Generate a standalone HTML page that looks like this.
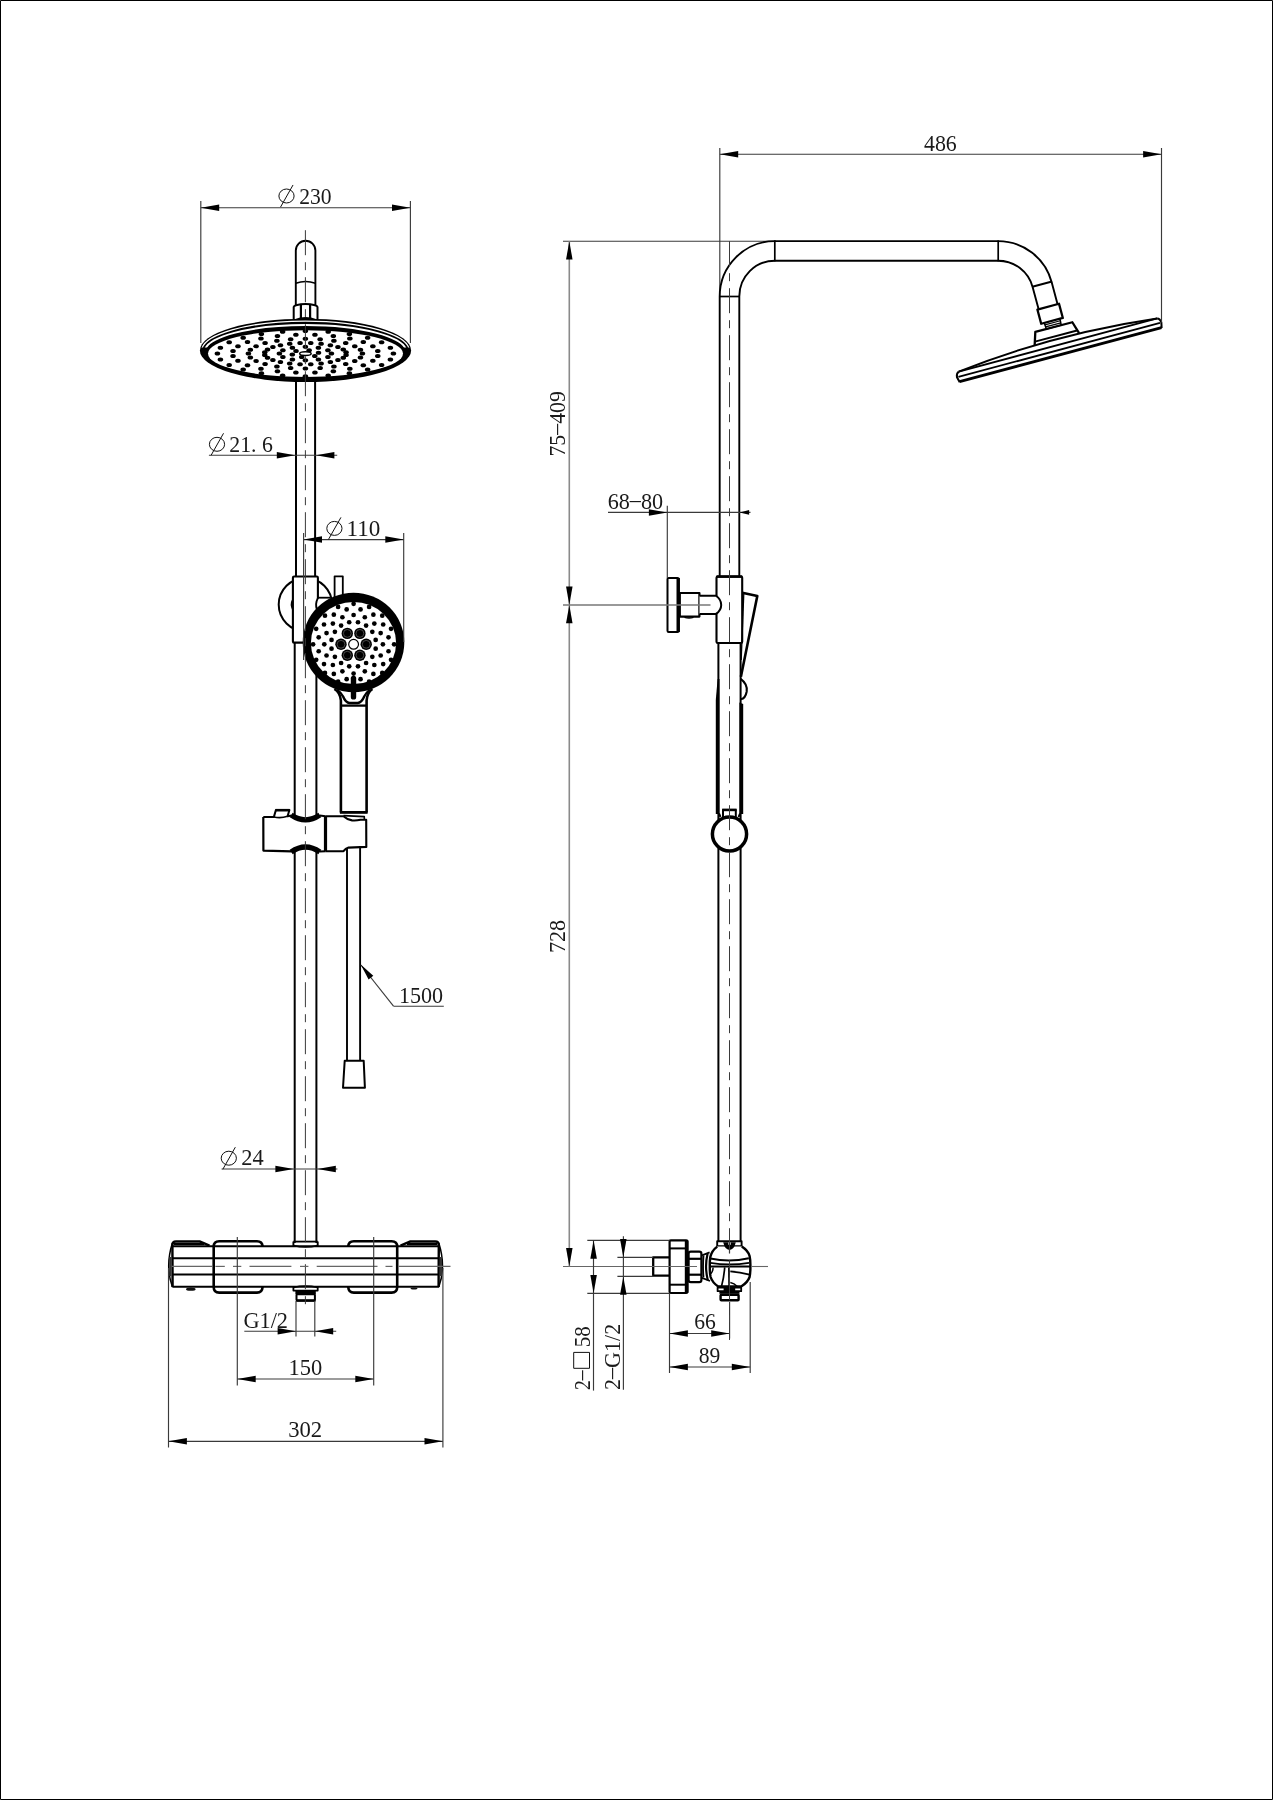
<!DOCTYPE html>
<html><head><meta charset="utf-8"><title>Shower column drawing</title>
<style>
html,body{margin:0;padding:0;background:#fff;}
body{width:1273px;height:1800px;overflow:hidden;}
svg{display:block;filter:grayscale(1);}
svg text{font-family:"Liberation Serif",serif;fill:#1a1a1a;}
</style></head><body>
<svg width="1273" height="1800" viewBox="0 0 1273 1800" fill="none" stroke-linecap="butt" stroke-linejoin="round">
<rect x="0" y="0" width="1273" height="1800" fill="#fff"/>
<rect x="0.5" y="0.5" width="1272" height="1799" fill="none" stroke="#000" stroke-width="1"/>
<path d="M295.8,305 L295.8,250.6 A9.8,9.8 0 0 1 315.4,250.6 L315.4,305" stroke="#000" stroke-width="1.9" fill="none" />
<path d="M295.8,283.2 Q305.5,279.8 315.4,283.2" stroke="#000" stroke-width="1.7" fill="none" />
<path d="M293.7,319.5 L293.7,307 Q294,305.6 296,305.2 Q305.5,302.6 315,305.2 Q317.2,305.6 317.5,307 L317.5,319.5" stroke="#000" stroke-width="2.0" fill="none" />
<line x1="300.90" y1="304.20" x2="300.90" y2="319.50" stroke="#000" stroke-width="2.2" />
<line x1="310.10" y1="304.20" x2="310.10" y2="319.50" stroke="#000" stroke-width="2.2" />
<path d="M294.6,319.2 Q305.5,314.8 316.6,319.2 Z" fill="#000"/>
<line x1="296.00" y1="380.00" x2="296.00" y2="576.00" stroke="#000" stroke-width="2.0" />
<line x1="315.10" y1="380.00" x2="315.10" y2="576.00" stroke="#000" stroke-width="2.0" />
<ellipse cx="305.50" cy="350.40" rx="105.60" ry="31.70" stroke="none" stroke-width="0" fill="#000" />
<ellipse cx="305.50" cy="353.60" rx="97.50" ry="23.30" stroke="none" stroke-width="0" fill="#fff" />
<clipPath id="upHalf"><rect x="190" y="310" width="230" height="37.5"/></clipPath>
<ellipse cx="305.50" cy="350.90" rx="103.80" ry="29.80" stroke="#fff" stroke-width="1.4" fill="none" clip-path="url(#upHalf)"/>
<ellipse cx="305.50" cy="352.00" rx="100.80" ry="27.00" stroke="#fff" stroke-width="2.0" fill="none" clip-path="url(#upHalf)"/>
<ellipse cx="393.40" cy="353.60" rx="2.75" ry="2.0" fill="#000"/>
<ellipse cx="390.40" cy="359.44" rx="2.75" ry="2.0" fill="#000"/>
<ellipse cx="381.61" cy="364.89" rx="2.75" ry="2.0" fill="#000"/>
<ellipse cx="367.63" cy="369.56" rx="2.75" ry="2.0" fill="#000"/>
<ellipse cx="349.40" cy="373.15" rx="2.75" ry="2.0" fill="#000"/>
<ellipse cx="328.18" cy="375.40" rx="2.75" ry="2.0" fill="#000"/>
<ellipse cx="305.40" cy="376.17" rx="2.75" ry="2.0" fill="#000"/>
<ellipse cx="282.62" cy="375.40" rx="2.75" ry="2.0" fill="#000"/>
<ellipse cx="261.40" cy="373.15" rx="2.75" ry="2.0" fill="#000"/>
<ellipse cx="243.17" cy="369.56" rx="2.75" ry="2.0" fill="#000"/>
<ellipse cx="229.19" cy="364.89" rx="2.75" ry="2.0" fill="#000"/>
<ellipse cx="220.40" cy="359.44" rx="2.75" ry="2.0" fill="#000"/>
<ellipse cx="217.40" cy="353.60" rx="2.75" ry="2.0" fill="#000"/>
<ellipse cx="220.40" cy="347.76" rx="2.75" ry="2.0" fill="#000"/>
<ellipse cx="229.19" cy="342.31" rx="2.75" ry="2.0" fill="#000"/>
<ellipse cx="243.17" cy="337.64" rx="2.75" ry="2.0" fill="#000"/>
<ellipse cx="261.40" cy="334.05" rx="2.75" ry="2.0" fill="#000"/>
<ellipse cx="282.62" cy="331.80" rx="2.75" ry="2.0" fill="#000"/>
<ellipse cx="305.40" cy="331.03" rx="2.75" ry="2.0" fill="#000"/>
<ellipse cx="328.18" cy="331.80" rx="2.75" ry="2.0" fill="#000"/>
<ellipse cx="349.40" cy="334.05" rx="2.75" ry="2.0" fill="#000"/>
<ellipse cx="367.63" cy="337.64" rx="2.75" ry="2.0" fill="#000"/>
<ellipse cx="381.61" cy="342.31" rx="2.75" ry="2.0" fill="#000"/>
<ellipse cx="390.40" cy="347.76" rx="2.75" ry="2.0" fill="#000"/>
<ellipse cx="377.78" cy="356.08" rx="2.75" ry="2.0" fill="#000"/>
<ellipse cx="372.84" cy="360.86" rx="2.75" ry="2.0" fill="#000"/>
<ellipse cx="363.31" cy="365.15" rx="2.75" ry="2.0" fill="#000"/>
<ellipse cx="349.84" cy="368.66" rx="2.75" ry="2.0" fill="#000"/>
<ellipse cx="333.34" cy="371.14" rx="2.75" ry="2.0" fill="#000"/>
<ellipse cx="314.93" cy="372.42" rx="2.75" ry="2.0" fill="#000"/>
<ellipse cx="295.87" cy="372.42" rx="2.75" ry="2.0" fill="#000"/>
<ellipse cx="277.46" cy="371.14" rx="2.75" ry="2.0" fill="#000"/>
<ellipse cx="260.96" cy="368.66" rx="2.75" ry="2.0" fill="#000"/>
<ellipse cx="247.49" cy="365.15" rx="2.75" ry="2.0" fill="#000"/>
<ellipse cx="237.96" cy="360.86" rx="2.75" ry="2.0" fill="#000"/>
<ellipse cx="233.02" cy="356.08" rx="2.75" ry="2.0" fill="#000"/>
<ellipse cx="233.02" cy="351.12" rx="2.75" ry="2.0" fill="#000"/>
<ellipse cx="237.96" cy="346.34" rx="2.75" ry="2.0" fill="#000"/>
<ellipse cx="247.49" cy="342.05" rx="2.75" ry="2.0" fill="#000"/>
<ellipse cx="260.96" cy="338.54" rx="2.75" ry="2.0" fill="#000"/>
<ellipse cx="277.46" cy="336.06" rx="2.75" ry="2.0" fill="#000"/>
<ellipse cx="295.87" cy="334.78" rx="2.75" ry="2.0" fill="#000"/>
<ellipse cx="314.93" cy="334.78" rx="2.75" ry="2.0" fill="#000"/>
<ellipse cx="333.34" cy="336.06" rx="2.75" ry="2.0" fill="#000"/>
<ellipse cx="349.84" cy="338.54" rx="2.75" ry="2.0" fill="#000"/>
<ellipse cx="363.31" cy="342.05" rx="2.75" ry="2.0" fill="#000"/>
<ellipse cx="372.84" cy="346.34" rx="2.75" ry="2.0" fill="#000"/>
<ellipse cx="377.78" cy="351.12" rx="2.75" ry="2.0" fill="#000"/>
<ellipse cx="362.40" cy="353.60" rx="2.75" ry="2.0" fill="#000"/>
<ellipse cx="360.46" cy="357.44" rx="2.75" ry="2.0" fill="#000"/>
<ellipse cx="354.76" cy="361.01" rx="2.75" ry="2.0" fill="#000"/>
<ellipse cx="345.71" cy="364.08" rx="2.75" ry="2.0" fill="#000"/>
<ellipse cx="333.90" cy="366.43" rx="2.75" ry="2.0" fill="#000"/>
<ellipse cx="320.15" cy="367.92" rx="2.75" ry="2.0" fill="#000"/>
<ellipse cx="305.40" cy="368.42" rx="2.75" ry="2.0" fill="#000"/>
<ellipse cx="290.65" cy="367.92" rx="2.75" ry="2.0" fill="#000"/>
<ellipse cx="276.90" cy="366.43" rx="2.75" ry="2.0" fill="#000"/>
<ellipse cx="265.09" cy="364.08" rx="2.75" ry="2.0" fill="#000"/>
<ellipse cx="256.04" cy="361.01" rx="2.75" ry="2.0" fill="#000"/>
<ellipse cx="250.34" cy="357.44" rx="2.75" ry="2.0" fill="#000"/>
<ellipse cx="248.40" cy="353.60" rx="2.75" ry="2.0" fill="#000"/>
<ellipse cx="250.34" cy="349.76" rx="2.75" ry="2.0" fill="#000"/>
<ellipse cx="256.04" cy="346.19" rx="2.75" ry="2.0" fill="#000"/>
<ellipse cx="265.09" cy="343.12" rx="2.75" ry="2.0" fill="#000"/>
<ellipse cx="276.90" cy="340.77" rx="2.75" ry="2.0" fill="#000"/>
<ellipse cx="290.65" cy="339.28" rx="2.75" ry="2.0" fill="#000"/>
<ellipse cx="305.40" cy="338.78" rx="2.75" ry="2.0" fill="#000"/>
<ellipse cx="320.15" cy="339.28" rx="2.75" ry="2.0" fill="#000"/>
<ellipse cx="333.90" cy="340.77" rx="2.75" ry="2.0" fill="#000"/>
<ellipse cx="345.71" cy="343.12" rx="2.75" ry="2.0" fill="#000"/>
<ellipse cx="354.76" cy="346.19" rx="2.75" ry="2.0" fill="#000"/>
<ellipse cx="360.46" cy="349.76" rx="2.75" ry="2.0" fill="#000"/>
<ellipse cx="346.05" cy="354.99" rx="2.75" ry="2.0" fill="#000"/>
<ellipse cx="343.28" cy="357.68" rx="2.75" ry="2.0" fill="#000"/>
<ellipse cx="337.93" cy="360.09" rx="2.75" ry="2.0" fill="#000"/>
<ellipse cx="330.36" cy="362.06" rx="2.75" ry="2.0" fill="#000"/>
<ellipse cx="321.09" cy="363.45" rx="2.75" ry="2.0" fill="#000"/>
<ellipse cx="310.75" cy="364.17" rx="2.75" ry="2.0" fill="#000"/>
<ellipse cx="300.05" cy="364.17" rx="2.75" ry="2.0" fill="#000"/>
<ellipse cx="289.71" cy="363.45" rx="2.75" ry="2.0" fill="#000"/>
<ellipse cx="280.44" cy="362.06" rx="2.75" ry="2.0" fill="#000"/>
<ellipse cx="272.87" cy="360.09" rx="2.75" ry="2.0" fill="#000"/>
<ellipse cx="267.52" cy="357.68" rx="2.75" ry="2.0" fill="#000"/>
<ellipse cx="264.75" cy="354.99" rx="2.75" ry="2.0" fill="#000"/>
<ellipse cx="264.75" cy="352.21" rx="2.75" ry="2.0" fill="#000"/>
<ellipse cx="267.52" cy="349.52" rx="2.75" ry="2.0" fill="#000"/>
<ellipse cx="272.87" cy="347.11" rx="2.75" ry="2.0" fill="#000"/>
<ellipse cx="280.44" cy="345.14" rx="2.75" ry="2.0" fill="#000"/>
<ellipse cx="289.71" cy="343.75" rx="2.75" ry="2.0" fill="#000"/>
<ellipse cx="300.05" cy="343.03" rx="2.75" ry="2.0" fill="#000"/>
<ellipse cx="310.75" cy="343.03" rx="2.75" ry="2.0" fill="#000"/>
<ellipse cx="321.09" cy="343.75" rx="2.75" ry="2.0" fill="#000"/>
<ellipse cx="330.36" cy="345.14" rx="2.75" ry="2.0" fill="#000"/>
<ellipse cx="337.93" cy="347.11" rx="2.75" ry="2.0" fill="#000"/>
<ellipse cx="343.28" cy="349.52" rx="2.75" ry="2.0" fill="#000"/>
<ellipse cx="346.05" cy="352.21" rx="2.75" ry="2.0" fill="#000"/>
<ellipse cx="331.40" cy="353.60" rx="2.75" ry="2.0" fill="#000"/>
<ellipse cx="327.92" cy="356.98" rx="2.75" ry="2.0" fill="#000"/>
<ellipse cx="318.40" cy="359.45" rx="2.75" ry="2.0" fill="#000"/>
<ellipse cx="305.40" cy="360.36" rx="2.75" ry="2.0" fill="#000"/>
<ellipse cx="292.40" cy="359.45" rx="2.75" ry="2.0" fill="#000"/>
<ellipse cx="282.88" cy="356.98" rx="2.75" ry="2.0" fill="#000"/>
<ellipse cx="279.40" cy="353.60" rx="2.75" ry="2.0" fill="#000"/>
<ellipse cx="282.88" cy="350.22" rx="2.75" ry="2.0" fill="#000"/>
<ellipse cx="292.40" cy="347.75" rx="2.75" ry="2.0" fill="#000"/>
<ellipse cx="305.40" cy="346.84" rx="2.75" ry="2.0" fill="#000"/>
<ellipse cx="318.40" cy="347.75" rx="2.75" ry="2.0" fill="#000"/>
<ellipse cx="327.92" cy="350.22" rx="2.75" ry="2.0" fill="#000"/>
<ellipse cx="318.50" cy="352.75" rx="2.75" ry="2.0" fill="#000"/>
<ellipse cx="314.78" cy="356.12" rx="2.75" ry="2.0" fill="#000"/>
<ellipse cx="301.68" cy="356.97" rx="2.75" ry="2.0" fill="#000"/>
<ellipse cx="292.30" cy="354.45" rx="2.75" ry="2.0" fill="#000"/>
<ellipse cx="296.02" cy="351.08" rx="2.75" ry="2.0" fill="#000"/>
<ellipse cx="309.12" cy="350.23" rx="2.75" ry="2.0" fill="#000"/>
<ellipse cx="305.40" cy="353.60" rx="5.80" ry="1.90" stroke="#000" stroke-width="1.4" fill="none" />
<circle cx="305.40" cy="604.60" r="26.70" stroke="#000" stroke-width="2.0" fill="none" />
<path d="M293.2,599.6 Q290.4,604.6 293.2,609.6" stroke="#000" stroke-width="2.2" fill="none" />
<line x1="318.00" y1="597.70" x2="330.00" y2="597.70" stroke="#000" stroke-width="1.8" />
<rect x="292.90" y="576.50" width="25.00" height="66.10" rx="1.2" stroke="#000" stroke-width="2.1" fill="#fff" />
<rect x="316.60" y="598.80" width="2.60" height="10.50" rx="0" stroke="none" stroke-width="0" fill="#fff" />
<path d="M318.0,597.9 Q314.9,603.6 316.9,609.6" stroke="#000" stroke-width="1.9" fill="none" />
<path d="M334.6,600 L334.6,576.3 L342.8,576.3 L342.8,600" stroke="#000" stroke-width="1.8" fill="none" />
<line x1="294.70" y1="643.00" x2="294.70" y2="1243.00" stroke="#000" stroke-width="2.0" />
<line x1="316.40" y1="643.00" x2="316.40" y2="1243.00" stroke="#000" stroke-width="2.0" />
<path d="M334.4,689.0 Q340.2,692.5 340.9,700.5 L340.9,812.4" stroke="#000" stroke-width="2.6" fill="none" />
<path d="M372.4,689.0 Q367.2,692.5 366.6,700.5 L366.6,812.4" stroke="#000" stroke-width="2.6" fill="none" />
<path d="M337,689.6 Q341.2,692.8 343.1,696.5 Q345.6,702.8 349.6,703.0 L357.6,703.0 Q361.6,702.8 364.2,696.5 Q366,692.8 370,689.6" stroke="#000" stroke-width="2.4" fill="none" />
<line x1="340.90" y1="705.60" x2="366.60" y2="705.60" stroke="#000" stroke-width="2.3" />
<line x1="339.90" y1="812.40" x2="367.60" y2="812.40" stroke="#000" stroke-width="2.8" />
<ellipse cx="353.50" cy="642.50" rx="50.80" ry="49.70" stroke="none" stroke-width="0" fill="#000" />
<ellipse cx="353.50" cy="643.00" rx="42.60" ry="41.00" stroke="none" stroke-width="0" fill="#fff" />
<circle cx="353.60" cy="603.80" r="2.35" fill="#000"/>
<circle cx="369.10" cy="606.88" r="2.35" fill="#000"/>
<circle cx="382.24" cy="615.66" r="2.35" fill="#000"/>
<circle cx="391.02" cy="628.80" r="2.35" fill="#000"/>
<circle cx="394.10" cy="644.30" r="2.35" fill="#000"/>
<circle cx="391.02" cy="659.80" r="2.35" fill="#000"/>
<circle cx="382.24" cy="672.94" r="2.35" fill="#000"/>
<circle cx="369.10" cy="681.72" r="2.35" fill="#000"/>
<circle cx="353.60" cy="684.80" r="2.35" fill="#000"/>
<circle cx="338.10" cy="681.72" r="2.35" fill="#000"/>
<circle cx="324.96" cy="672.94" r="2.35" fill="#000"/>
<circle cx="316.18" cy="659.80" r="2.35" fill="#000"/>
<circle cx="313.10" cy="644.30" r="2.35" fill="#000"/>
<circle cx="316.18" cy="628.80" r="2.35" fill="#000"/>
<circle cx="324.96" cy="615.66" r="2.35" fill="#000"/>
<circle cx="338.10" cy="606.88" r="2.35" fill="#000"/>
<circle cx="360.55" cy="609.38" r="2.35" fill="#000"/>
<circle cx="373.38" cy="614.70" r="2.35" fill="#000"/>
<circle cx="383.20" cy="624.52" r="2.35" fill="#000"/>
<circle cx="388.52" cy="637.35" r="2.35" fill="#000"/>
<circle cx="388.52" cy="651.25" r="2.35" fill="#000"/>
<circle cx="383.20" cy="664.08" r="2.35" fill="#000"/>
<circle cx="373.38" cy="673.90" r="2.35" fill="#000"/>
<circle cx="360.55" cy="679.22" r="2.35" fill="#000"/>
<circle cx="346.65" cy="679.22" r="2.35" fill="#000"/>
<circle cx="333.82" cy="673.90" r="2.35" fill="#000"/>
<circle cx="324.00" cy="664.08" r="2.35" fill="#000"/>
<circle cx="318.68" cy="651.25" r="2.35" fill="#000"/>
<circle cx="318.68" cy="637.35" r="2.35" fill="#000"/>
<circle cx="324.00" cy="624.52" r="2.35" fill="#000"/>
<circle cx="333.82" cy="614.70" r="2.35" fill="#000"/>
<circle cx="346.65" cy="609.38" r="2.35" fill="#000"/>
<circle cx="353.60" cy="615.00" r="2.35" fill="#000"/>
<circle cx="364.81" cy="617.23" r="2.35" fill="#000"/>
<circle cx="374.32" cy="623.58" r="2.35" fill="#000"/>
<circle cx="380.67" cy="633.09" r="2.35" fill="#000"/>
<circle cx="382.90" cy="644.30" r="2.35" fill="#000"/>
<circle cx="380.67" cy="655.51" r="2.35" fill="#000"/>
<circle cx="374.32" cy="665.02" r="2.35" fill="#000"/>
<circle cx="364.81" cy="671.37" r="2.35" fill="#000"/>
<circle cx="353.60" cy="673.60" r="2.35" fill="#000"/>
<circle cx="342.39" cy="671.37" r="2.35" fill="#000"/>
<circle cx="332.88" cy="665.02" r="2.35" fill="#000"/>
<circle cx="326.53" cy="655.51" r="2.35" fill="#000"/>
<circle cx="324.30" cy="644.30" r="2.35" fill="#000"/>
<circle cx="326.53" cy="633.09" r="2.35" fill="#000"/>
<circle cx="332.88" cy="623.58" r="2.35" fill="#000"/>
<circle cx="342.39" cy="617.23" r="2.35" fill="#000"/>
<circle cx="357.99" cy="622.23" r="2.35" fill="#000"/>
<circle cx="366.10" cy="625.59" r="2.35" fill="#000"/>
<circle cx="372.31" cy="631.80" r="2.35" fill="#000"/>
<circle cx="375.67" cy="639.91" r="2.35" fill="#000"/>
<circle cx="375.67" cy="648.69" r="2.35" fill="#000"/>
<circle cx="372.31" cy="656.80" r="2.35" fill="#000"/>
<circle cx="366.10" cy="663.01" r="2.35" fill="#000"/>
<circle cx="357.99" cy="666.37" r="2.35" fill="#000"/>
<circle cx="349.21" cy="666.37" r="2.35" fill="#000"/>
<circle cx="341.10" cy="663.01" r="2.35" fill="#000"/>
<circle cx="334.89" cy="656.80" r="2.35" fill="#000"/>
<circle cx="331.53" cy="648.69" r="2.35" fill="#000"/>
<circle cx="331.53" cy="639.91" r="2.35" fill="#000"/>
<circle cx="334.89" cy="631.80" r="2.35" fill="#000"/>
<circle cx="341.10" cy="625.59" r="2.35" fill="#000"/>
<circle cx="349.21" cy="622.23" r="2.35" fill="#000"/>
<circle cx="359.90" cy="633.39" r="5.7" fill="#000"/>
<circle cx="359.90" cy="633.39" r="3.9" fill="none" stroke="#777" stroke-width="0.6"/>
<circle cx="366.20" cy="644.30" r="5.7" fill="#000"/>
<circle cx="366.20" cy="644.30" r="3.9" fill="none" stroke="#777" stroke-width="0.6"/>
<circle cx="359.90" cy="655.21" r="5.7" fill="#000"/>
<circle cx="359.90" cy="655.21" r="3.9" fill="none" stroke="#777" stroke-width="0.6"/>
<circle cx="347.30" cy="655.21" r="5.7" fill="#000"/>
<circle cx="347.30" cy="655.21" r="3.9" fill="none" stroke="#777" stroke-width="0.6"/>
<circle cx="341.00" cy="644.30" r="5.7" fill="#000"/>
<circle cx="341.00" cy="644.30" r="3.9" fill="none" stroke="#777" stroke-width="0.6"/>
<circle cx="347.30" cy="633.39" r="5.7" fill="#000"/>
<circle cx="347.30" cy="633.39" r="3.9" fill="none" stroke="#777" stroke-width="0.6"/>
<circle cx="353.60" cy="644.30" r="4.90" stroke="#000" stroke-width="1.2" fill="#fff" />
<rect x="350.80" y="675.70" width="5.40" height="23.90" rx="2.6" stroke="none" stroke-width="0" fill="#000" />
<path d="M263.3,816.9 L291.8,815.4 Q305.5,824.6 319.6,815.4 L343.5,816.3 Q352,822 366.2,819.8 L366.3,846.9 L348.5,847.6 L343.5,851.2 L319.6,851.5 Q305.5,842.0 291.8,851.5 L263.4,850.6 Z" fill="#fff" stroke="none"/>
<path d="M263.3,816.9 L273.9,816.9 L275.9,810 L289.4,810 L287.6,816.2 L291.8,815.4" stroke="#000" stroke-width="2.0" fill="none" />
<line x1="275.50" y1="810.20" x2="289.60" y2="810.20" stroke="#000" stroke-width="2.6" />
<path d="M273.9,816.9 Q280.5,818.6 287.6,816.2" stroke="#000" stroke-width="1.6" fill="none" />
<path d="M263.3,816.9 L263.4,850.6 L291.8,851.3" stroke="#000" stroke-width="2.2" fill="none" />
<path d="M319.6,815.4 L325.5,816.3" stroke="#000" stroke-width="2.0" fill="none" />
<path d="M319.6,851.4 L325.5,851.2" stroke="#000" stroke-width="2.0" fill="none" />
<path d="M291.2,815.0 Q305.5,824.6 319.8,815.0" stroke="#000" stroke-width="5.2" fill="none" />
<path d="M291.2,852.0 Q305.5,842.0 319.8,852.0" stroke="#000" stroke-width="5.2" fill="none" />
<line x1="325.50" y1="816.00" x2="325.50" y2="851.40" stroke="#000" stroke-width="3.2" />
<path d="M325.5,816.3 L343.5,816.3 Q347,819.6 352,820.4 Q356,820.8 360.5,819.8 L366.2,819.8 L366.3,846.9 L348.5,847.6 Q345.5,848.4 343.5,851.2 L325.5,851.2" stroke="#000" stroke-width="2.1" fill="none" />
<path d="M343.5,815.6 L364.3,816.6 L364.3,819.8" stroke="#000" stroke-width="1.6" fill="none" />
<line x1="347.00" y1="848.50" x2="347.00" y2="1060.70" stroke="#000" stroke-width="1.9" />
<line x1="360.10" y1="847.00" x2="360.10" y2="1060.70" stroke="#000" stroke-width="1.9" />
<path d="M344.7,1060.7 L363.7,1060.7 L364.9,1087.8 L343.0,1087.8 Z" stroke="#000" stroke-width="2.0" fill="none" />
<line x1="360.90" y1="965.00" x2="393.50" y2="1006.20" stroke="#3a3a3a" stroke-width="1.15" />
<line x1="393.50" y1="1006.20" x2="443.80" y2="1006.20" stroke="#3a3a3a" stroke-width="1.15" />
<polygon points="360.70,964.60 373.29,975.68 368.59,979.40" fill="#000"/>
<text x="398.90" y="1002.90" font-size="23.3" text-anchor="start" textLength="44.2" lengthAdjust="spacingAndGlyphs">1500</text>
<path d="M293.4,1241.4 L293.4,1246 M317.7,1241.4 L317.7,1246" stroke="#000" stroke-width="1.9" fill="none" />
<line x1="293.40" y1="1241.60" x2="317.70" y2="1241.60" stroke="#000" stroke-width="1.8" />
<path d="M293.4,1245.4 Q305.5,1248.6 317.7,1245.4" stroke="#000" stroke-width="1.6" fill="none" />
<line x1="172.40" y1="1246.20" x2="439.00" y2="1246.20" stroke="#000" stroke-width="2.0" />
<line x1="172.40" y1="1258.30" x2="439.00" y2="1258.30" stroke="#000" stroke-width="2.0" />
<line x1="172.40" y1="1274.60" x2="439.00" y2="1274.60" stroke="#000" stroke-width="2.0" />
<line x1="172.40" y1="1286.80" x2="439.00" y2="1286.80" stroke="#000" stroke-width="2.0" />
<path d="M172.6,1287 L172.4,1245 Q172.4,1241.4 176,1241.4 L199.6,1241.4 L209.5,1245.6" stroke="#000" stroke-width="2.4" fill="none" />
<line x1="174.00" y1="1243.80" x2="204.00" y2="1243.80" stroke="#000" stroke-width="2.6" />
<path d="M172.4,1243 Q165,1266.4 172.4,1287" stroke="#000" stroke-width="1.5" fill="none" />
<path d="M170.3,1257 L170.3,1276" stroke="#333" stroke-width="2.2" fill="none" />
<ellipse cx="190.8" cy="1289.2" rx="4.8" ry="1.6" fill="#111"/>
<path d="M438.6,1287 L438.8,1245 Q438.8,1241.4 435.2,1241.4 L410.4,1241.4 L400.5,1245.6" stroke="#000" stroke-width="2.4" fill="none" />
<line x1="407.00" y1="1243.80" x2="437.20" y2="1243.80" stroke="#000" stroke-width="2.6" />
<path d="M438.8,1243 Q446.2,1266.4 438.8,1287" stroke="#000" stroke-width="1.5" fill="none" />
<path d="M440.9,1257 L440.9,1276" stroke="#333" stroke-width="2.2" fill="none" />
<ellipse cx="414" cy="1288.6" rx="3.4" ry="1.0" fill="#111"/>
<path d="M262.6,1246.2 Q262.2,1241.2 257,1241.2 L219.2,1241.2 Q213.7,1241.2 213.7,1246.6 L213.7,1287 Q213.7,1292.6 219.2,1292.6 L257,1292.6 Q262.2,1292.6 262.6,1286.8" stroke="#000" stroke-width="2.6" fill="none" />
<path d="M348.2,1246.2 Q348.6,1241.2 353.8,1241.2 L391.6,1241.2 Q397.2,1241.2 397.2,1246.6 L397.2,1287 Q397.2,1292.6 391.6,1292.6 L353.8,1292.6 Q348.6,1292.6 348.2,1286.8" stroke="#000" stroke-width="2.6" fill="none" />
<path d="M293.4,1287 L293.4,1290.6 L317.7,1290.6 L317.7,1287" stroke="#000" stroke-width="1.8" fill="none" />
<path d="M293.4,1287.4 Q305.5,1284.8 317.7,1287.4" stroke="#000" stroke-width="1.5" fill="none" />
<rect x="295.40" y="1291.00" width="20.40" height="3.20" rx="0" stroke="none" stroke-width="0" fill="#000" />
<rect x="296.50" y="1294.20" width="18.40" height="6.40" rx="0.8" stroke="#000" stroke-width="2.0" fill="#fff" />
<line x1="296.00" y1="1300.60" x2="315.40" y2="1300.60" stroke="#000" stroke-width="2.4" />
<line x1="305.40" y1="230.20" x2="305.40" y2="1306.00" stroke="#3a3a3a" stroke-width="1.0" stroke-dasharray="25 7 8 7"/>
<line x1="171.80" y1="1266.40" x2="212.40" y2="1266.40" stroke="#666" stroke-width="1.2" />
<line x1="215.40" y1="1266.40" x2="224.80" y2="1266.40" stroke="#666" stroke-width="1.2" />
<line x1="233.00" y1="1266.40" x2="241.30" y2="1266.40" stroke="#666" stroke-width="1.2" />
<line x1="249.50" y1="1266.40" x2="291.40" y2="1266.40" stroke="#666" stroke-width="1.2" />
<line x1="300.00" y1="1266.40" x2="308.40" y2="1266.40" stroke="#666" stroke-width="1.2" />
<line x1="316.70" y1="1266.40" x2="377.50" y2="1266.40" stroke="#666" stroke-width="1.2" />
<line x1="385.50" y1="1266.40" x2="392.50" y2="1266.40" stroke="#666" stroke-width="1.2" />
<line x1="398.50" y1="1266.40" x2="450.50" y2="1266.40" stroke="#666" stroke-width="1.2" />
<line x1="200.80" y1="201.00" x2="200.80" y2="343.00" stroke="#3a3a3a" stroke-width="1.15" />
<line x1="410.40" y1="201.00" x2="410.40" y2="343.00" stroke="#3a3a3a" stroke-width="1.15" />
<line x1="200.80" y1="207.70" x2="410.40" y2="207.70" stroke="#3a3a3a" stroke-width="1.15" />
<polygon points="200.80,207.70 219.20,204.45 219.20,210.95" fill="#000"/>
<polygon points="410.40,207.70 392.00,210.95 392.00,204.45" fill="#000"/>
<ellipse cx="286.50" cy="196.00" rx="7.60" ry="6.99" stroke="#111" stroke-width="1.0" fill="none" />
<line x1="280.57" y1="207.02" x2="293.04" y2="184.98" stroke="#111" stroke-width="1.0" />
<text x="299.20" y="203.50" font-size="23.3" text-anchor="start" textLength="32.4" lengthAdjust="spacingAndGlyphs">230</text>
<line x1="208.90" y1="455.20" x2="337.20" y2="455.20" stroke="#3a3a3a" stroke-width="1.15" />
<polygon points="295.20,455.20 276.80,458.45 276.80,451.95" fill="#000"/>
<polygon points="316.00,455.20 334.40,451.95 334.40,458.45" fill="#000"/>
<ellipse cx="217.00" cy="444.30" rx="7.60" ry="6.99" stroke="#111" stroke-width="1.0" fill="none" />
<line x1="211.07" y1="455.32" x2="223.54" y2="433.28" stroke="#111" stroke-width="1.0" />
<text x="229.30" y="451.90" font-size="23.3" text-anchor="start" textLength="43.6" lengthAdjust="spacingAndGlyphs">21. 6</text>
<line x1="303.60" y1="533.00" x2="303.60" y2="660.00" stroke="#3a3a3a" stroke-width="1.15" />
<line x1="403.70" y1="533.00" x2="403.70" y2="642.00" stroke="#3a3a3a" stroke-width="1.15" />
<line x1="303.60" y1="539.60" x2="403.70" y2="539.60" stroke="#3a3a3a" stroke-width="1.15" />
<polygon points="303.60,539.60 322.00,536.35 322.00,542.85" fill="#000"/>
<polygon points="403.70,539.60 385.30,542.85 385.30,536.35" fill="#000"/>
<ellipse cx="334.40" cy="528.40" rx="7.60" ry="6.99" stroke="#111" stroke-width="1.0" fill="none" />
<line x1="328.47" y1="539.42" x2="340.94" y2="517.38" stroke="#111" stroke-width="1.0" />
<text x="346.60" y="536.10" font-size="23.3" text-anchor="start" textLength="33.8" lengthAdjust="spacingAndGlyphs">110</text>
<line x1="221.60" y1="1169.00" x2="337.40" y2="1169.00" stroke="#3a3a3a" stroke-width="1.15" />
<polygon points="293.80,1169.00 275.40,1172.25 275.40,1165.75" fill="#000"/>
<polygon points="317.40,1169.00 335.80,1165.75 335.80,1172.25" fill="#000"/>
<ellipse cx="228.80" cy="1158.20" rx="7.60" ry="6.99" stroke="#111" stroke-width="1.0" fill="none" />
<line x1="222.87" y1="1169.22" x2="235.34" y2="1147.18" stroke="#111" stroke-width="1.0" />
<text x="241.20" y="1165.30" font-size="23.3" text-anchor="start" textLength="22.4" lengthAdjust="spacingAndGlyphs">24</text>
<line x1="296.00" y1="1301.00" x2="296.00" y2="1336.50" stroke="#3a3a3a" stroke-width="1.15" />
<line x1="314.80" y1="1301.00" x2="314.80" y2="1336.50" stroke="#3a3a3a" stroke-width="1.15" />
<line x1="244.30" y1="1331.20" x2="336.20" y2="1331.20" stroke="#3a3a3a" stroke-width="1.15" />
<polygon points="296.00,1331.20 277.60,1334.45 277.60,1327.95" fill="#000"/>
<polygon points="314.80,1331.20 333.20,1327.95 333.20,1334.45" fill="#000"/>
<text x="243.40" y="1327.80" font-size="23.3" text-anchor="start" textLength="44.6" lengthAdjust="spacingAndGlyphs">G1/2</text>
<line x1="237.30" y1="1237.00" x2="237.30" y2="1385.50" stroke="#3a3a3a" stroke-width="1.15" />
<line x1="373.70" y1="1237.00" x2="373.70" y2="1385.50" stroke="#3a3a3a" stroke-width="1.15" />
<line x1="237.30" y1="1379.00" x2="373.70" y2="1379.00" stroke="#3a3a3a" stroke-width="1.15" />
<polygon points="237.30,1379.00 255.70,1375.75 255.70,1382.25" fill="#000"/>
<polygon points="373.70,1379.00 355.30,1382.25 355.30,1375.75" fill="#000"/>
<text x="288.50" y="1375.30" font-size="23.3" text-anchor="start" textLength="33.7" lengthAdjust="spacingAndGlyphs">150</text>
<line x1="168.50" y1="1268.00" x2="168.50" y2="1447.50" stroke="#3a3a3a" stroke-width="1.15" />
<line x1="442.90" y1="1268.00" x2="442.90" y2="1447.50" stroke="#3a3a3a" stroke-width="1.15" />
<line x1="168.50" y1="1441.30" x2="442.90" y2="1441.30" stroke="#3a3a3a" stroke-width="1.15" />
<polygon points="168.50,1441.30 186.90,1438.05 186.90,1444.55" fill="#000"/>
<polygon points="442.90,1441.30 424.50,1444.55 424.50,1438.05" fill="#000"/>
<text x="288.20" y="1437.00" font-size="23.3" text-anchor="start" textLength="34.0" lengthAdjust="spacingAndGlyphs">302</text>
<line x1="719.80" y1="148.00" x2="719.80" y2="290.00" stroke="#3a3a3a" stroke-width="1.15" />
<line x1="563.00" y1="241.20" x2="776.00" y2="241.20" stroke="#3a3a3a" stroke-width="1.15" />
<path d="M729.5,577 L729.5,296.40 A45.5,45.5 0 0 1 775.00,250.9 L998.19,250.9 A45.5,45.5 0 0 1 1042.14,284.62 L1048.1,306.7" stroke="#000" stroke-width="21.5" fill="none" />
<path d="M729.5,577 L729.5,296.40 A45.5,45.5 0 0 1 775.00,250.9 L998.19,250.9 A45.5,45.5 0 0 1 1042.14,284.62 L1048.1,306.7" stroke="#fff" stroke-width="17.7" fill="none" />
<line x1="719.00" y1="296.50" x2="740.00" y2="296.50" stroke="#000" stroke-width="1.7" />
<line x1="774.80" y1="240.40" x2="774.80" y2="261.40" stroke="#000" stroke-width="1.7" />
<line x1="998.20" y1="240.40" x2="998.20" y2="261.40" stroke="#000" stroke-width="1.7" />
<line x1="1032.32" y1="286.79" x2="1052.03" y2="281.51" stroke="#000" stroke-width="2.0" />
<path d="M1037.39,309.56 L1059.02,303.76 L1062.83,317.96 L1041.19,323.76 Z" stroke="#000" stroke-width="2.3" fill="#fff" />
<path d="M1044.28,322.93 L1046.35,329.10 L1061.23,325.12 L1059.93,318.74" stroke="#000" stroke-width="1.5" fill="none" />
<line x1="1044.99" y1="324.81" x2="1060.25" y2="320.72" stroke="#000" stroke-width="1.2" />
<line x1="1045.56" y1="326.93" x2="1060.82" y2="322.84" stroke="#000" stroke-width="1.2" />
<path d="M1034.66,345.38 L1035.31,331.96 L1072.36,322.24 L1079.09,333.06" stroke="#000" stroke-width="2.3" fill="none" />
<line x1="1034.99" y1="341.57" x2="1077.06" y2="330.50" stroke="#000" stroke-width="1.9" />
<line x1="959.59" y1="381.65" x2="1161.47" y2="327.56" stroke="#000" stroke-width="2.9" />
<line x1="958.42" y1="376.89" x2="1160.01" y2="322.87" stroke="#000" stroke-width="1.8" />
<line x1="958.77" y1="371.62" x2="1157.17" y2="318.46" stroke="#000" stroke-width="1.8" />
<path d="M958.77,371.62 Q1054.84,333.35 1157.17,318.46" stroke="#000" stroke-width="2.0" fill="none" />
<path d="M959.75,382.23 L956.97,377.28 Q956.30,373.21 958.77,371.62" stroke="#000" stroke-width="2.0" fill="none" />
<path d="M1161.63,328.13 L1161.36,322.51 Q1160.11,318.60 1157.17,318.46" stroke="#000" stroke-width="2.0" fill="none" />
<line x1="718.40" y1="643.00" x2="718.40" y2="1242.00" stroke="#000" stroke-width="2.0" />
<line x1="740.60" y1="643.00" x2="740.60" y2="1242.00" stroke="#000" stroke-width="2.0" />
<rect x="716.50" y="576.50" width="25.70" height="66.50" rx="1.2" stroke="#000" stroke-width="2.1" fill="#fff" />
<line x1="716.50" y1="576.60" x2="742.20" y2="576.60" stroke="#000" stroke-width="2.6" />
<rect x="667.50" y="577.90" width="11.20" height="54.00" rx="1.2" stroke="#000" stroke-width="2.0" fill="none" />
<line x1="678.20" y1="578.00" x2="678.20" y2="632.00" stroke="#000" stroke-width="3.4" />
<rect x="679.80" y="593.00" width="19.60" height="23.60" rx="0" stroke="#000" stroke-width="2.2" fill="#fff" />
<path d="M699.5,595.8 L716.0,595.8 Q721.2,599.5 721.2,604.9 Q721.2,610.3 716.0,613.9 L699.5,613.9" stroke="#000" stroke-width="2.0" fill="#fff" />
<path d="M684.5,617.4 Q689,618.6 693.5,617.4" stroke="#000" stroke-width="1.4" fill="none"/>
<path d="M742.3,592.7 L757.3,596.0 L740.9,676.8" stroke="#000" stroke-width="2.6" fill="none" />
<path d="M743.8,593.2 L741.2,660" stroke="#000" stroke-width="1.3" fill="none" />
<path d="M740.6,678.8 Q747.8,684 746.7,691.5 Q745.4,698.6 741.0,699.2" stroke="#000" stroke-width="2.1" fill="none" />
<polygon points="719.5,679 717.6,679 715.8,700 715.8,814 719.5,814" fill="#000"/>
<polygon points="739.4,702.5 743.2,704 743.2,814 739.4,814" fill="#000"/>
<path d="M719,813.5 L720.5,817 M740,813.5 L738.6,817" stroke="#000" stroke-width="2.0" fill="none" />
<path d="M723.0,819 L723.0,809.9 L735.8,809.9 L735.8,819" stroke="#000" stroke-width="2.0" fill="none" />
<line x1="722.20" y1="809.90" x2="736.60" y2="809.90" stroke="#000" stroke-width="2.6" />
<circle cx="729.50" cy="834.00" r="17.10" stroke="#000" stroke-width="3.5" fill="#fff" />
<rect x="717.20" y="1241.30" width="24.40" height="4.90" rx="0" stroke="#000" stroke-width="1.9" fill="#fff" />
<path d="M717.2,1246.6 Q711.8,1250.6 710.3,1257 Q709.7,1261 709.8,1266.5 Q709.7,1273 710.6,1277 Q712.4,1282.6 718.2,1286.5 L741.2,1286.5 Q747.6,1282.6 749.6,1277 Q750.5,1272 750.4,1266.5 Q750.5,1260 749.6,1256 Q747.8,1250.4 741.8,1246.6" stroke="#000" stroke-width="2.4" fill="#fff" />
<path d="M723.2,1242.2 L735.8,1242.2 Q734.2,1249.6 729.5,1249.9 Q724.8,1249.6 723.2,1242.2 Z" fill="#000"/>
<rect x="728.30" y="1242.40" width="0.90" height="2.40" rx="0" stroke="none" stroke-width="0" fill="#ddd" />
<rect x="729.90" y="1242.40" width="0.90" height="2.40" rx="0" stroke="none" stroke-width="0" fill="#ddd" />
<line x1="729.50" y1="1249.00" x2="729.50" y2="1253.40" stroke="#222" stroke-width="1.2" />
<path d="M710.4,1258.5 Q729.5,1262.6 748.8,1258.2" stroke="#000" stroke-width="1.9" fill="none" />
<path d="M710.2,1262.8 Q729.5,1266.0 749.0,1262.8" stroke="#000" stroke-width="1.7" fill="none" />
<path d="M709.8,1266.4 L750.4,1266.4" stroke="#000" stroke-width="2.0" fill="none" />
<path d="M713.0,1267.6 Q713.2,1271.2 710.8,1273.6" stroke="#000" stroke-width="1.5" fill="none" />
<path d="M724.7,1267.4 Q724.0,1277 721.6,1286.0" stroke="#000" stroke-width="1.7" fill="none" />
<path d="M728.9,1267.4 L729.1,1286.0" stroke="#000" stroke-width="1.7" fill="none" />
<path d="M730.3,1271.3 Q740,1272 749.6,1274.6" stroke="#000" stroke-width="1.7" fill="none" />
<path d="M730.3,1282.4 Q734.4,1283.2 737.0,1286.2" stroke="#000" stroke-width="1.5" fill="none" />
<path d="M702.0,1255.4 L709.6,1252.4 M702.0,1277.9 L710.0,1281.0" stroke="#000" stroke-width="1.7" fill="none" />
<path d="M703.5,1255.6 Q702.6,1266.5 703.5,1277.4" stroke="#000" stroke-width="1.8" fill="none" />
<path d="M707.6,1253.4 Q704.4,1266.5 707.8,1280.2" stroke="#000" stroke-width="2.2" fill="none" />
<rect x="688.60" y="1251.60" width="12.80" height="30.60" rx="2.2" stroke="#000" stroke-width="2.2" fill="#fff" />
<line x1="688.60" y1="1258.80" x2="701.40" y2="1258.80" stroke="#000" stroke-width="2.2" />
<line x1="688.60" y1="1274.70" x2="701.40" y2="1274.70" stroke="#000" stroke-width="2.2" />
<rect x="669.60" y="1240.40" width="17.80" height="52.60" rx="1.2" stroke="#000" stroke-width="2.2" fill="#fff" />
<line x1="686.60" y1="1240.40" x2="686.60" y2="1293.00" stroke="#000" stroke-width="3.6" />
<line x1="669.60" y1="1248.40" x2="686.60" y2="1248.40" stroke="#000" stroke-width="2.0" />
<line x1="669.60" y1="1284.70" x2="686.60" y2="1284.70" stroke="#000" stroke-width="2.0" />
<path d="M669.6,1257.3 L653.2,1257.3 L653.2,1275.6 L669.6,1275.6" stroke="#000" stroke-width="2.3" fill="none" />
<rect x="717.60" y="1287.60" width="23.60" height="3.60" rx="0" stroke="#000" stroke-width="1.8" fill="#fff" />
<rect x="723.60" y="1287.60" width="11.60" height="3.60" rx="0" stroke="none" stroke-width="0" fill="#000" />
<rect x="719.40" y="1291.00" width="20.10" height="2.80" rx="0" stroke="none" stroke-width="0" fill="#000" />
<rect x="720.60" y="1294.80" width="18.00" height="5.40" rx="0.8" stroke="#000" stroke-width="2.4" fill="#fff" />
<line x1="729.50" y1="241.20" x2="729.50" y2="1340.00" stroke="#3a3a3a" stroke-width="1.0" stroke-dasharray="25 7 8 7"/>
<line x1="563.00" y1="604.90" x2="710.50" y2="604.90" stroke="#777" stroke-width="1.5" />
<line x1="563.00" y1="1266.50" x2="697.00" y2="1266.50" stroke="#666" stroke-width="1.1" />
<line x1="751.00" y1="1266.50" x2="768.00" y2="1266.50" stroke="#666" stroke-width="1.1" />
<line x1="1161.50" y1="148.00" x2="1161.50" y2="322.50" stroke="#3a3a3a" stroke-width="1.15" />
<line x1="719.80" y1="154.20" x2="1161.50" y2="154.20" stroke="#3a3a3a" stroke-width="1.15" />
<polygon points="719.80,154.20 738.20,150.95 738.20,157.45" fill="#000"/>
<polygon points="1161.50,154.20 1143.10,157.45 1143.10,150.95" fill="#000"/>
<text x="940.40" y="150.60" font-size="23.3" text-anchor="middle" textLength="32.8" lengthAdjust="spacingAndGlyphs">486</text>
<line x1="569.30" y1="241.20" x2="569.30" y2="1266.40" stroke="#8a8a8a" stroke-width="1.6" />
<polygon points="569.30,241.20 572.55,259.60 566.05,259.60" fill="#000"/>
<polygon points="569.30,604.90 566.05,586.50 572.55,586.50" fill="#000"/>
<polygon points="569.30,604.90 572.55,623.30 566.05,623.30" fill="#000"/>
<polygon points="569.30,1266.40 566.05,1248.00 572.55,1248.00" fill="#000"/>
<text x="564.90" y="456.60" font-size="23.3" text-anchor="start" textLength="65.6" lengthAdjust="spacingAndGlyphs" transform="rotate(-90 564.90 456.60)">75<tspan dy="-2.3">–</tspan><tspan dy="2.3">409</tspan></text>
<text x="564.90" y="953.00" font-size="23.3" text-anchor="start" textLength="33.2" lengthAdjust="spacingAndGlyphs" transform="rotate(-90 564.90 953.00)">728</text>
<line x1="667.30" y1="505.80" x2="667.30" y2="578.00" stroke="#3a3a3a" stroke-width="1.15" />
<line x1="608.00" y1="512.40" x2="750.50" y2="512.40" stroke="#3a3a3a" stroke-width="1.15" />
<polygon points="667.30,512.40 648.90,515.65 648.90,509.15" fill="#000"/>
<polygon points="739.60,512.40 749.10,510.00 749.10,514.80" fill="#000"/>
<text x="607.70" y="508.90" font-size="23.3" text-anchor="start" textLength="55.4" lengthAdjust="spacingAndGlyphs">68<tspan dy="-2.3">–</tspan><tspan dy="2.3">80</tspan></text>
<line x1="587.30" y1="1240.30" x2="669.60" y2="1240.30" stroke="#3a3a3a" stroke-width="1.15" />
<line x1="587.30" y1="1293.30" x2="669.60" y2="1293.30" stroke="#3a3a3a" stroke-width="1.15" />
<line x1="593.50" y1="1240.30" x2="593.50" y2="1390.60" stroke="#3a3a3a" stroke-width="1.15" />
<polygon points="593.60,1240.30 596.85,1258.70 590.35,1258.70" fill="#000"/>
<polygon points="593.60,1293.30 590.35,1274.90 596.85,1274.90" fill="#000"/>
<text x="590.30" y="1390.00" font-size="23.3" text-anchor="start" textLength="19.6" lengthAdjust="spacingAndGlyphs" transform="rotate(-90 590.30 1390.00)">2<tspan dy="-2.3">–</tspan></text>
<rect x="573.70" y="1352.40" width="15.80" height="15.90" rx="0" stroke="#111" stroke-width="1.0" fill="none" />
<text x="590.30" y="1347.20" font-size="23.3" text-anchor="start" textLength="21.0" lengthAdjust="spacingAndGlyphs" transform="rotate(-90 590.30 1347.20)">58</text>
<line x1="617.40" y1="1257.40" x2="653.20" y2="1257.40" stroke="#3a3a3a" stroke-width="1.15" />
<line x1="617.40" y1="1276.40" x2="653.20" y2="1276.40" stroke="#3a3a3a" stroke-width="1.15" />
<line x1="623.40" y1="1236.30" x2="623.40" y2="1389.80" stroke="#3a3a3a" stroke-width="1.15" />
<polygon points="623.30,1257.40 620.05,1239.00 626.55,1239.00" fill="#000"/>
<polygon points="623.30,1276.40 626.55,1294.80 620.05,1294.80" fill="#000"/>
<text x="619.90" y="1390.00" font-size="23.3" text-anchor="start" textLength="66.2" lengthAdjust="spacingAndGlyphs" transform="rotate(-90 619.90 1390.00)">2<tspan dy="-2.3">–</tspan><tspan dy="2.3">G1/2</tspan></text>
<line x1="669.50" y1="1293.00" x2="669.50" y2="1373.00" stroke="#3a3a3a" stroke-width="1.15" />
<line x1="729.60" y1="1302.00" x2="729.60" y2="1338.60" stroke="#3a3a3a" stroke-width="1.15" />
<line x1="669.50" y1="1333.50" x2="729.60" y2="1333.50" stroke="#3a3a3a" stroke-width="1.15" />
<polygon points="669.50,1333.50 687.90,1330.25 687.90,1336.75" fill="#000"/>
<polygon points="729.60,1333.50 711.20,1336.75 711.20,1330.25" fill="#000"/>
<text x="694.30" y="1328.90" font-size="23.3" text-anchor="start" textLength="21.6" lengthAdjust="spacingAndGlyphs">66</text>
<line x1="750.20" y1="1282.00" x2="750.20" y2="1373.00" stroke="#3a3a3a" stroke-width="1.15" />
<line x1="669.50" y1="1367.00" x2="750.20" y2="1367.00" stroke="#3a3a3a" stroke-width="1.15" />
<polygon points="669.50,1367.00 687.90,1363.75 687.90,1370.25" fill="#000"/>
<polygon points="750.20,1367.00 731.80,1370.25 731.80,1363.75" fill="#000"/>
<text x="698.70" y="1362.90" font-size="23.3" text-anchor="start" textLength="21.6" lengthAdjust="spacingAndGlyphs">89</text>
</svg>
</body></html>
